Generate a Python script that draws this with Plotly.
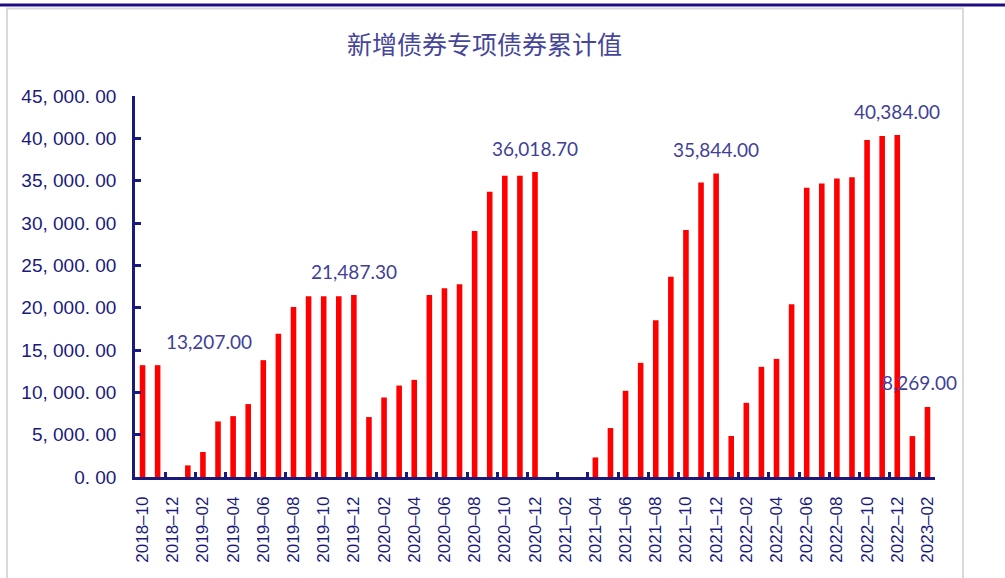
import plotly.graph_objects as go

# ---------------- data ----------------
months = [
    "2018-10", "2018-11", "2018-12",
    "2019-01", "2019-02", "2019-03", "2019-04", "2019-05", "2019-06",
    "2019-07", "2019-08", "2019-09", "2019-10", "2019-11", "2019-12",
    "2020-01", "2020-02", "2020-03", "2020-04", "2020-05", "2020-06",
    "2020-07", "2020-08", "2020-09", "2020-10", "2020-11", "2020-12",
    "2021-01", "2021-02", "2021-03", "2021-04", "2021-05", "2021-06",
    "2021-07", "2021-08", "2021-09", "2021-10", "2021-11", "2021-12",
    "2022-01", "2022-02", "2022-03", "2022-04", "2022-05", "2022-06",
    "2022-07", "2022-08", "2022-09", "2022-10", "2022-11", "2022-12",
    "2023-01", "2023-02",
]
values = [
    13207.0, 13207.0, 0.0,
    1370.0, 2950.0, 6560.0, 7190.0, 8610.0, 13800.0,
    16930.0, 20080.0, 21340.0, 21340.0, 21340.0, 21487.3,
    7080.0, 9390.0, 10800.0, 11470.0, 21490.0, 22290.0,
    22760.0, 29050.0, 33680.0, 35570.0, 35570.0, 36018.7,
    0.0, 0.0, 0.0, 2310.0, 5780.0, 10180.0,
    13480.0, 18510.0, 23660.0, 29160.0, 34790.0, 35844.0,
    4840.0, 8760.0, 13010.0, 13950.0, 20400.0, 34150.0,
    34670.0, 35260.0, 35410.0, 39810.0, 40280.0, 40384.0,
    4830.0, 8269.0,
]
title_text = "新增债券专项债券累计值"
label_months = ["2018-11", "2019-12", "2020-12", "2021-12", "2022-12", "2023-02"]
label_xshift = [51, 0, 0, 0, 0, -8]
y_tickvals = [0, 5000, 10000, 15000, 20000, 25000, 30000, 35000, 40000, 45000]
y_ticktext = ["0. 00", "5, 000. 00", "10, 000. 00", "15, 000. 00", "20, 000. 00",
              "25, 000. 00", "30, 000. 00", "35, 000. 00", "40, 000. 00", "45, 000. 00"]
x_tickvals = months[::2]
x_ticktext = [m.replace("-", "–") for m in x_tickvals]

# ---------------- style ----------------
W, H = 1005, 578
ML, MR, MT, MB = 135, 70, 96, 101
PW, PH = W - ML - MR, H - MT - MB
NAVY = "#1a1a7c"
LABEL = "#3f3f98"


def px_x(px):
    return (px - ML) / PW


def px_y(py):
    return (H - MB - py) / PH


fig = go.Figure()
fig.add_trace(go.Bar(
    x=months, y=values,
    marker=dict(color="#ff0000", line=dict(width=0)),
    width=0.37,
    hoverinfo="x+y",
))

for m, xs in zip(label_months, label_xshift):
    v = values[months.index(m)]
    fig.add_annotation(
        x=m, y=v, xref="x", yref="y",
        text=f"{v:,.2f}", showarrow=False,
        xanchor="center", yanchor="middle",
        xshift=xs, yshift=24,
        font=dict(family="Lato, Open Sans, sans-serif", size=19, color=LABEL),
    )

# frame: thick navy top rule and light grey chart-area border
fig.add_shape(type="line", xref="paper", yref="paper",
              x0=px_x(0), x1=px_x(W), y0=px_y(5), y1=px_y(5),
              line=dict(color="#1e0c84", width=3))
fig.add_shape(type="rect", xref="paper", yref="paper",
              x0=px_x(7), x1=px_x(963), y0=px_y(8.5), y1=px_y(H + 5),
              line=dict(color="#d9d9d9", width=2), fillcolor="rgba(0,0,0,0)")

fig.update_layout(
    width=W, height=H,
    margin=dict(l=ML, r=MR, t=MT, b=MB),
    paper_bgcolor="white", plot_bgcolor="white",
    showlegend=False,
    bargap=0.63,
    title=dict(
        text=title_text,
        x=484.5 / W, xref="container", xanchor="center",
        y=1 - 45 / H, yref="container", yanchor="middle",
        font=dict(family="Noto Sans CJK SC", size=25, color="#45459a"),
    ),
    xaxis=dict(
        type="category",
        categoryorder="array", categoryarray=months,
        range=[-0.5, len(months) - 0.5],
        tickmode="array", tickvals=x_tickvals, ticktext=x_ticktext,
        tickson="boundaries",
        ticks="inside", ticklen=5, tickwidth=2.5, tickcolor=NAVY,
        tickangle=-90,
        tickfont=dict(family="Liberation Sans, Arial, sans-serif", size=17, color=NAVY),
        ticklabelstandoff=10,
        showline=True, linecolor=NAVY, linewidth=2.5,
        showgrid=False, zeroline=False,
        fixedrange=True,
    ),
    yaxis=dict(
        range=[0, 45000],
        tickmode="array", tickvals=y_tickvals, ticktext=y_ticktext,
        ticks="inside", ticklen=6, tickwidth=2.5, tickcolor=NAVY,
        tickfont=dict(family="Liberation Sans, Arial, sans-serif", size=19, color=NAVY),
        ticklabelstandoff=12,
        showline=True, linecolor=NAVY, linewidth=2.5,
        showgrid=False, zeroline=False,
        fixedrange=True,
    ),
)

fig.write_html(
    "out.html",
    config={"displayModeBar": False},
    post_script="document.body.style.margin='0px';",
)
